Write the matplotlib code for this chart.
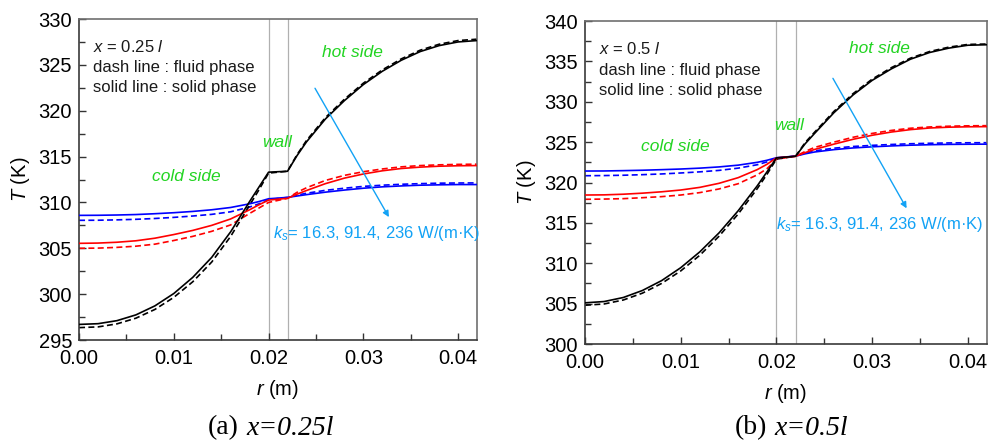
"""Radial temperature profiles across the tube wall for two axial stations."""

import matplotlib

matplotlib.use("Agg")

import matplotlib.pyplot as plt
from matplotlib.ticker import FormatStrFormatter, MultipleLocator

plt.rcParams["font.family"] = ["Liberation Sans", "DejaVu Sans"]
plt.rcParams["mathtext.fontset"] = "custom"
plt.rcParams["mathtext.rm"] = "Liberation Sans"
plt.rcParams["mathtext.it"] = "Liberation Sans:italic"

# radial positions (m); wall occupies 0.020 - 0.022
R = [0.000, 0.002, 0.004, 0.006, 0.008, 0.010, 0.012, 0.014, 0.016, 0.018,
     0.019, 0.020, 0.022, 0.023, 0.024, 0.026, 0.028, 0.030, 0.032, 0.034,
     0.036, 0.038, 0.040, 0.042]
WALL = [0.020, 0.022]
KS_LABELS = ["16.3", "91.4", "236"]

# x = 0.25 l  (solid phase / fluid phase), ks = 16.3, 91.4, 236
A_SOLID_16 = [296.70, 296.78, 297.11, 297.74, 298.72, 300.07, 301.83, 304.01, 306.80, 310.10,
              311.70, 313.30, 313.40, 315.10, 316.60, 319.10, 321.10, 322.85, 324.30, 325.50,
              326.45, 327.10, 327.50, 327.65]
A_FLUID_16 = [296.35, 296.43, 296.76, 297.38, 298.33, 299.65, 301.35, 303.50, 306.30, 309.70,
              311.40, 313.20, 313.40, 315.20, 316.75, 319.25, 321.25, 323.00, 324.45, 325.65,
              326.60, 327.25, 327.65, 327.80]
A_SOLID_91 = [305.54, 305.57, 305.66, 305.82, 306.10, 306.50, 306.95, 307.50, 308.20, 309.20,
              309.75, 310.26, 310.45, 310.90, 311.30, 312.05, 312.65, 313.10, 313.45, 313.70,
              313.85, 313.95, 314.00, 314.02]
A_FLUID_91 = [305.00, 305.02, 305.10, 305.23, 305.45, 305.85, 306.30, 306.85, 307.55, 308.80,
              309.40, 310.00, 310.45, 311.10, 311.60, 312.40, 312.95, 313.35, 313.65, 313.88,
              314.02, 314.10, 314.15, 314.17]
A_SOLID_236 = [308.59, 308.60, 308.63, 308.68, 308.77, 308.88, 309.02, 309.20, 309.45, 309.85,
               310.10, 310.40, 310.55, 310.70, 310.85, 311.12, 311.35, 311.55, 311.70, 311.80,
               311.88, 311.92, 311.95, 311.95]
A_FLUID_236 = [308.05, 308.06, 308.10, 308.16, 308.25, 308.37, 308.52, 308.70, 308.98, 309.50,
               309.85, 310.30, 310.55, 310.80, 311.00, 311.32, 311.55, 311.75, 311.88, 311.98,
               312.05, 312.10, 312.12, 312.13]

# x = 0.5 l
B_SOLID_16 = [305.10, 305.26, 305.76, 306.63, 307.85, 309.45, 311.42, 313.76, 316.50, 319.60,
              321.30, 323.05, 323.25, 324.80, 326.10, 328.64, 330.84, 332.65, 334.07, 335.27,
              336.10, 336.64, 337.00, 337.06]
B_FLUID_16 = [304.80, 304.96, 305.45, 306.30, 307.50, 309.05, 311.00, 313.35, 316.10, 319.25,
              321.00, 322.90, 323.25, 324.95, 326.25, 328.80, 331.00, 332.80, 334.22, 335.40,
              336.22, 336.76, 337.10, 337.15]
B_SOLID_91 = [318.45, 318.47, 318.55, 318.68, 318.85, 319.07, 319.40, 319.90, 320.60, 321.60,
              322.25, 323.05, 323.25, 323.70, 324.10, 324.75, 325.35, 325.85, 326.25, 326.55,
              326.75, 326.85, 326.90, 326.92]
B_FLUID_91 = [317.92, 317.95, 318.00, 318.12, 318.25, 318.45, 318.75, 319.20, 319.85, 320.95,
              321.70, 322.90, 323.25, 323.85, 324.35, 325.00, 325.60, 326.08, 326.45, 326.72,
              326.88, 326.97, 327.02, 327.04]
B_SOLID_236 = [321.42, 321.43, 321.47, 321.52, 321.59, 321.67, 321.78, 321.93, 322.15, 322.50,
               322.75, 323.07, 323.27, 323.55, 323.78, 324.07, 324.28, 324.42, 324.53, 324.62,
               324.68, 324.72, 324.74, 324.75]
B_FLUID_236 = [320.84, 320.86, 320.90, 320.97, 321.06, 321.18, 321.32, 321.50, 321.78, 322.20,
               322.55, 323.00, 323.27, 323.65, 323.92, 324.25, 324.46, 324.60, 324.71, 324.80,
               324.86, 324.90, 324.92, 324.93]

SERIES_COLORS = ["black", "#ff0000", "#0000ff"]
GREEN = "#22d422"
SKY = "#12a2f5"
DASH = (0, (3.6, 2.0))


def draw_panel(ax, solids, fluids, ylim, station, notes, arrow, ks_pos):
    ax.axvline(WALL[0], color="#b0b0b0", lw=0.9, zorder=1)
    ax.axvline(WALL[1], color="#b0b0b0", lw=0.9, zorder=1)

    for solid, fluid, color in reversed(list(zip(solids, fluids, SERIES_COLORS))):
        ax.plot(R, fluid, color=color, lw=1.2, linestyle=DASH, zorder=2)
        ax.plot(R, solid, color=color, lw=1.2, zorder=3)

    ax.set_xlim(0, 0.042)
    ax.set_ylim(*ylim)
    ax.xaxis.set_major_locator(MultipleLocator(0.01))
    ax.xaxis.set_minor_locator(MultipleLocator(0.005))
    ax.yaxis.set_major_locator(MultipleLocator(5))
    ax.yaxis.set_minor_locator(MultipleLocator(2.5))
    ax.xaxis.set_major_formatter(FormatStrFormatter("%.2f"))
    ax.tick_params(which="both", direction="in", top=False, right=False,
                   labelsize=14.5, color="#333333", width=1.0)
    ax.tick_params(which="major", length=5, pad=5)
    ax.tick_params(which="minor", length=4)
    ax.tick_params(axis="x", which="major", pad=6.5)
    for side, spine in ax.spines.items():
        spine.set_linewidth(1.2)
        spine.set_color("#3a3a3a" if side in ("left", "bottom") else "#707070")

    ax.set_xlabel("$r$ (m)", fontsize=14.5)
    ax.set_ylabel("$T$ (K)", fontsize=14.5)
    ax.xaxis.set_label_coords(0.5, -0.118)
    ax.yaxis.set_label_coords(-0.117, 0.5)

    lines = [f"$x$ = {station} $l$", "dash line : fluid phase", "solid line : solid phase"]
    for text, y in zip(lines, (0.913, 0.848, 0.786)):
        ax.text(0.034, y, text, transform=ax.transAxes, fontsize=12,
                ha="left", va="center", color="#1a1a1a")

    for text, (x, y) in zip(("hot side", "wall", "cold side"), notes):
        ax.text(x, y, text, color=GREEN, fontsize=12.5, style="italic",
                ha="center", va="center")

    (x0, y0), (x1, y1) = arrow
    ax.annotate("", xy=(x1, y1), xytext=(x0, y0),
                arrowprops=dict(arrowstyle="-|>", color=SKY, lw=1.0,
                                mutation_scale=9, shrinkA=0, shrinkB=0))
    ax.text(ks_pos[0], ks_pos[1],
            "$k_s$= " + ", ".join(KS_LABELS) + " W/(m\u00b7K)",
            color=SKY, fontsize=12, ha="left", va="center")


fig = plt.figure(figsize=(9.98, 4.44), dpi=100)
ax_a = fig.add_axes([0.0792, 0.2342, 0.3988, 0.7230])
ax_b = fig.add_axes([0.5862, 0.2252, 0.4028, 0.7275])

draw_panel(ax_a,
           [A_SOLID_16, A_SOLID_91, A_SOLID_236],
           [A_FLUID_16, A_FLUID_91, A_FLUID_236],
           (295, 330), "0.25",
           [(0.0289, 326.3), (0.0209, 316.5), (0.0113, 312.8)],
           [(0.0249, 322.45), (0.0327, 308.4)],
           (0.0205, 306.65))
draw_panel(ax_b,
           [B_SOLID_16, B_SOLID_91, B_SOLID_236],
           [B_FLUID_16, B_FLUID_91, B_FLUID_236],
           (300, 340), "0.5",
           [(0.0308, 336.65), (0.0213, 327.1), (0.0094, 324.5)],
           [(0.0259, 332.9), (0.0336, 316.8)],
           (0.0200, 314.75))

# panel captions
for x_tag, x_body, tag, body in ((0.2395, 0.2465, "(a)", "x=0.25l"),
                                 (0.7685, 0.7755, "(b)", "x=0.5l")):
    fig.text(x_tag, 0.036, tag, family="Liberation Serif", fontsize=20,
             ha="right", va="center")
    fig.text(x_body, 0.036, body, family="Liberation Serif", fontsize=20,
             style="italic", ha="left", va="center")

fig.savefig("out.png", dpi=100)
